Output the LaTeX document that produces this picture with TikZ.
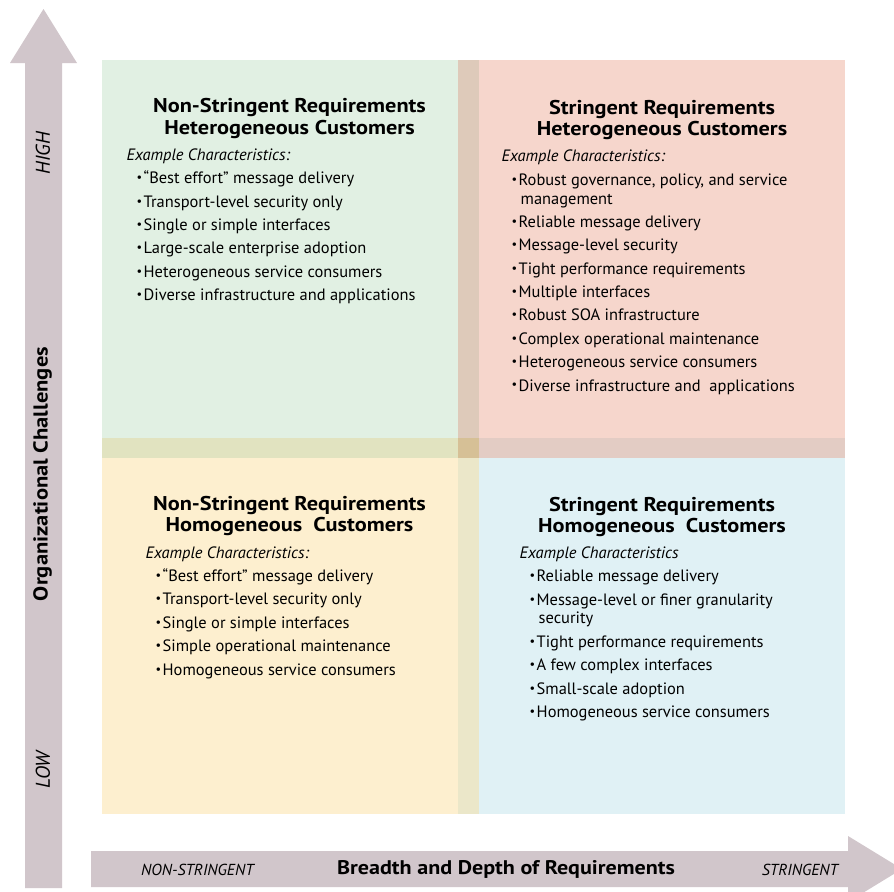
\documentclass[tikz,border=0pt]{standalone}
\usepackage{fontspec}
\setmainfont{PT Sans}
\newfontfamily\widebold[FakeStretch=1.12]{PT Sans Bold}
\usepackage{graphicx}
\definecolor{qgreen}{RGB}{225,240,227}
\definecolor{qpink}{RGB}{246,214,204}
\definecolor{qyellow}{RGB}{253,239,207}
\definecolor{qblue}{RGB}{224,241,245}
\definecolor{bandtop}{RGB}{222,202,186}
\definecolor{bandleft}{RGB}{225,227,192}
\definecolor{bandmid}{RGB}{214,192,150}
\definecolor{bandright}{RGB}{227,204,196}
\definecolor{bandbottom}{RGB}{235,231,201}
\definecolor{axisfill}{RGB}{209,198,203}
\newcommand{\smallbullet}{\raisebox{0.25ex}{\scalebox{0.75}{•}}}
\newcommand{\li}[1]{\par\vspace{4.45bp}\hangindent=19bp\hangafter=1\noindent\makebox[17bp][l]{\hspace{10bp}\smallbullet}#1}
\newcommand{\listbody}[1]{\parbox[t]{360bp}{\fontsize{16.5}{19}\selectfont\parindent=0pt\parskip=0pt #1}}
\newcommand{\titlebody}[1]{\parbox[t]{360bp}{\centering\widebold\fontsize{20}{21.5}\selectfont #1}}
\tikzset{
  listnode/.style={anchor=base west, inner sep=0pt, outer sep=0pt},
  titlenode/.style={anchor=base, inner sep=0pt, outer sep=0pt},
  axislabel/.style={inner sep=0pt, text=black},
}
\begin{document}
\begin{tikzpicture}[x=1bp,y=-1bp]
\useasboundingbox (0,0) rectangle (894,892);
\clip (0,0) rectangle (894,892);
\fill[white] (0,0) rectangle (894,892);
% quadrants
\fill[qgreen] (102,60) rectangle (458,438);
\fill[bandtop] (458,60) rectangle (479,438);
\fill[qpink] (479,60) rectangle (845,438);
\fill[bandleft] (102,438) rectangle (458,458);
\fill[bandmid] (458,438) rectangle (479,458);
\fill[bandright] (479,438) rectangle (845,458);
\fill[qyellow] (102,458) rectangle (458,814);
\fill[bandbottom] (458,458) rectangle (479,814);
\fill[qblue] (479,458) rectangle (845,814);
% axes
\fill[axisfill] (25,888) -- (25,63) -- (10,63) -- (43.5,9) -- (77,63) -- (62,63) -- (62,888) -- cycle;
\fill[axisfill] (91,851) -- (848,851) -- (848,836) -- (902,869) -- (848,902) -- (848,887) -- (91,887) -- cycle;
% axis labels
\node[axislabel, rotate=90] (high) at (43,153) {\fontsize{20}{22}\selectfont\itshape HIGH};
\node[axislabel, rotate=90] (low) at (43,770) {\fontsize{20}{22}\selectfont\itshape LOW};
\node[axislabel, rotate=90] (org) at (42.5,474) {\widebold\fontsize{20.2}{22}\selectfont Organizational Challenges};
\node[axislabel] (nonstr) at (197.5,870) {\fontsize{16}{18}\selectfont\itshape NON-STRINGENT};
\node[axislabel] (breadth) at (506,869) {\widebold\fontsize{19.8}{22}\selectfont Breadth and Depth of Requirements};
\node[axislabel] (str) at (800,870) {\fontsize{16}{18}\selectfont\itshape STRINGENT};
% titles
\node[titlenode] (tltitle) at (289.5,112.7) {\titlebody{Non-Stringent Requirements\\Heterogeneous Customers}};
\node[titlenode] (trtitle) at (662,114.5) {\titlebody{Stringent Requirements\\Heterogeneous Customers}};
\node[titlenode] (bltitle) at (289.5,510) {\titlebody{Non-Stringent Requirements\\Homogeneous\ \ Customers}};
\node[titlenode] (brtitle) at (662,511) {\titlebody{Stringent Requirements\\Homogeneous\ \ Customers}};
% lists
\node[listnode] (tllist) at (126.7,160.3) {\listbody{\noindent\textit{Example Characteristics:}
\li{“Best effort” message delivery}
\li{Transport-level security only}
\li{Single or simple interfaces}
\li{Large-scale enterprise adoption}
\li{Heterogeneous service consumers}
\li{Diverse infrastructure and applications}}};
\node[listnode] (trlist) at (501.7,161.7) {\listbody{\noindent\textit{Example Characteristics:}
\li{Robust governance, policy, and service\newline management}
\li{Reliable message delivery}
\li{Message-level security}
\li{Tight performance requirements}
\li{Multiple interfaces}
\li{Robust SOA infrastructure}
\li{Complex operational maintenance}
\li{Heterogeneous service consumers}
\li{Diverse infrastructure and\ \ applications}}};
\node[listnode] (bllist) at (145.7,558.2) {\listbody{\noindent\textit{Example Characteristics:}
\li{“Best effort” message delivery}
\li{Transport-level security only}
\li{Single or simple interfaces}
\li{Simple operational maintenance}
\li{Homogeneous service consumers}}};
\node[listnode] (brlist) at (519.7,558.3) {\listbody{\noindent\textit{Example Characteristics}
\li{Reliable message delivery}
\li{Message-level or finer granularity\newline security}
\li{Tight performance requirements}
\li{A few complex interfaces}
\li{Small-scale adoption}
\li{Homogeneous service consumers}}};
\end{tikzpicture}
\end{document}
